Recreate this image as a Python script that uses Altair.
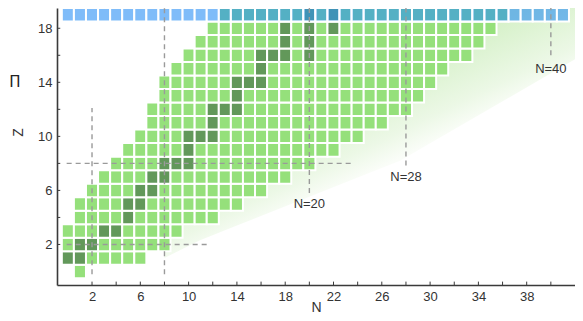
import altair as alt
import pandas as pd

# ---- data ----
# rows of the nuclide chart: proton number Z and the first / last neutron number N shown
Z_rows  = [0, 1, 2, 3, 4, 5, 6, 7, 8, 9, 10, 11, 12, 13, 14, 15, 16, 17, 18, 19]
N_first = [1, 0, 0, 0, 1, 1, 2, 3, 4, 5, 6, 7, 7, 8, 8, 9, 10, 11, 12, 13]
N_last  = [1, 6, 8, 9, 12, 14, 16, 18, 20, 22, 24, 26, 28, 29, 30, 31, 33, 34, 35, 36]
# stable nuclides (dark cells): Z -> list of N
stable = {1: [0, 1], 2: [1, 2], 3: [3, 4], 4: [5], 5: [5, 6], 6: [6, 7], 7: [7, 8],
          8: [8, 9, 10], 9: [10], 10: [10, 11, 12], 11: [12], 12: [12, 13, 14],
          13: [14], 14: [14, 15, 16], 15: [16], 16: [16, 17, 18, 20], 17: [18, 20],
          18: [18, 20, 22], 19: [20, 22]}
# highlighted (blue) row
band_Z = 19
band_N = list(range(0, 42))
# magic-number guide lines (dashed)
vline_N    = [2, 8, 20, 28, 40]
vline_Zlo  = [-0.2, -0.2, 5.8, 7.85, 16.0]
vline_Zhi  = [12.1, 19.5, 19.5, 19.5, 19.5]
hline_Z    = [2, 8]
hline_Nlo  = [-0.1, -0.1]
hline_Nhi  = [11.7, 23.7]
# labels
label_text = ["N=20", "N=28", "N=40"]
label_N    = [20, 28, 40]
label_Z    = [5.0, 7.0, 15.0]
# shaded region (drip-line background)
shade_N    = [8, 10.9, 14, 27.5, 42.0]
shade_Zlo  = [1.0, 2.3, 3.4, 8.2, 15.7]
shade_Zhi  = [13.0, 15.9, 19.5, 19.5, 19.5]
# axis ticks and labels
x_ticks = list(range(2, 42, 2))
y_ticks = list(range(2, 19, 2))
x_labels = [2, 6, 10, 14, 18, 22, 26, 30, 34, 38]
y_labels = [2, 6, 10, 14, 18]

X_DOM = [-0.9, 42.0]
Y_DOM = [-1, 19.5]

# ---- tables ----
rows = []
for z, a, b in zip(Z_rows, N_first, N_last):
    for n in range(a, b + 1):
        rows.append({"N": n, "Z": z, "stable": "yes" if n in stable.get(z, []) else "no"})
cells = pd.DataFrame(rows)
band = pd.DataFrame({"N": band_N, "Z": [band_Z] * len(band_N)})
vlines = pd.DataFrame({"N": vline_N, "Zlo": vline_Zlo, "Zhi": vline_Zhi})
hlines = pd.DataFrame({"Z": hline_Z, "Nlo": hline_Nlo, "Nhi": hline_Nhi})
labels = pd.DataFrame({"t": label_text, "N": label_N, "Z": label_Z})
shade = pd.DataFrame({"N": shade_N, "lo": shade_Zlo, "hi": shade_Zhi})
xt = pd.DataFrame({"N": x_ticks, "a": [Y_DOM[0]] * len(x_ticks),
                   "b": [Y_DOM[0] + 0.25] * len(x_ticks)})
yt = pd.DataFrame({"Z": y_ticks, "a": [X_DOM[0]] * len(y_ticks),
                   "b": [X_DOM[0] + 0.27] * len(y_ticks)})

FONT = "Liberation Sans"
xscale = alt.Scale(domain=X_DOM, nice=False, zero=False)
yscale = alt.Scale(domain=Y_DOM, nice=False, zero=False)
xaxis = alt.Axis(title="N", values=x_labels,
                 ticks=False, grid=False, domainColor="#3a3a3a", domainWidth=1.6,
                 labelFont=FONT, labelFontSize=13, labelColor="#333333", labelPadding=5,
                 labelFlush=False, labelOverlap=False,
                 titleFont=FONT, titleFontSize=14, titleFontWeight="normal",
                 titleColor="#333333", titleY=15, titleBaseline="top")
yaxis = alt.Axis(title="Z", values=y_labels,
                 ticks=False, grid=False, domainColor="#3a3a3a", domainWidth=1.6,
                 labelFont=FONT, labelFontSize=13, labelColor="#333333", labelPadding=5,
                 labelFlush=False, labelOverlap=False,
                 titleFont=FONT, titleFontSize=14, titleFontWeight="normal",
                 titleColor="#333333", titlePadding=12, titleY=124)


def X(f):
    return alt.X(f, type="quantitative", scale=xscale, axis=xaxis)


def Y(f):
    return alt.Y(f, type="quantitative", scale=yscale, axis=yaxis)


grad = alt.Gradient(
    gradient="linear",
    stops=[alt.GradientStop(color="#d6f1c9", offset=0),
           alt.GradientStop(color="#ecf8e6", offset=0.7),
           alt.GradientStop(color="#fafdf8", offset=1)],
    x1=0.39, y1=0.39, x2=0.563, y2=0.609)

shade_layer = alt.Chart(shade).mark_area(color=grad).encode(
    x=X("N"), y=Y("lo"), y2="hi")

cell_layer = alt.Chart(cells).transform_calculate(
    x0="datum.N - 0.5", x1="datum.N + 0.5", y0="datum.Z - 0.5", y1="datum.Z + 0.5"
).mark_rect(stroke="white", strokeWidth=2).encode(
    x=X("x0"), x2="x1", y=Y("y0"), y2="y1",
    color=alt.Color("stable:N", scale=alt.Scale(domain=["no", "yes"],
                                                 range=["#95e07b", "#62985a"]), legend=None))

band_layer = alt.Chart(band).transform_calculate(
    x0="datum.N - 0.5", x1="datum.N + 0.5", y0="datum.Z - 0.5", y1="datum.Z + 0.5"
).mark_rect(fill="#2a90f5", fillOpacity=0.6, stroke="white", strokeWidth=2).encode(
    x=X("x0"), x2="x1", y=Y("y0"), y2="y1")

vline_layer = alt.Chart(vlines).mark_rule(color="#9a9a9a", strokeWidth=1.4,
                                          strokeDash=[5, 4]).encode(
    x=X("N"), y=Y("Zlo"), y2="Zhi")
hline_layer = alt.Chart(hlines).mark_rule(color="#9a9a9a", strokeWidth=1.4,
                                          strokeDash=[5, 4]).encode(
    y=Y("Z"), x=X("Nlo"), x2="Nhi")

label_layer = alt.Chart(labels).mark_text(font=FONT, fontSize=13, color="#333333").encode(
    x=X("N"), y=Y("Z"), text="t:N")

xtick_layer = alt.Chart(xt).mark_rule(color="#3a3a3a", strokeWidth=1).encode(
    x=X("N"), y=Y("a"), y2="b")
ytick_layer = alt.Chart(yt).mark_rule(color="#3a3a3a", strokeWidth=1).encode(
    y=Y("Z"), x=X("a"), x2="b")

glyph = alt.Chart(pd.DataFrame({"t": ["\u03a0"]})).mark_text(
    font="DejaVu Sans", fontSize=15, color="#222222").encode(
    x=alt.value(-42), y=alt.value(74), text="t:N")

chart = alt.layer(shade_layer, cell_layer, band_layer, vline_layer, hline_layer,
                  label_layer, xtick_layer, ytick_layer, glyph).properties(
    width=518, height=277,
    autosize=alt.AutoSizeParams(type="none"),
    padding={"left": 49, "top": 0, "right": 0, "bottom": 28},
    background="white"
).configure_view(stroke=None)

chart.save("out.html", embed_options={"renderer": "svg", "actions": False})
